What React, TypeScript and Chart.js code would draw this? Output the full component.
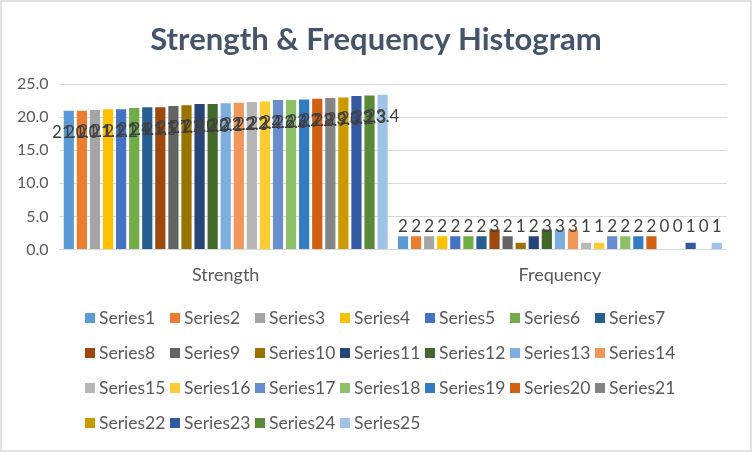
import { useEffect, useRef } from 'react';
import { Chart, registerables } from 'chart.js';

Chart.register(...registerables);

const categories = ['Strength', 'Frequency'];

const seriesNames = [
  'Series1', 'Series2', 'Series3', 'Series4', 'Series5', 'Series6', 'Series7',
  'Series8', 'Series9', 'Series10', 'Series11', 'Series12', 'Series13', 'Series14',
  'Series15', 'Series16', 'Series17', 'Series18', 'Series19', 'Series20', 'Series21',
  'Series22', 'Series23', 'Series24', 'Series25',
];

const strengthValues = [
  21.0, 21.0, 21.1, 21.2, 21.2, 21.4, 21.5, 21.5, 21.7, 21.8, 22.0, 22.0, 22.1,
  22.2, 22.3, 22.4, 22.6, 22.6, 22.7, 22.8, 22.9, 23.0, 23.2, 23.3, 23.4,
];

const frequencyValues = [
  2, 2, 2, 2, 2, 2, 2, 3, 2, 1, 2, 3, 3, 3, 1, 1, 2, 2, 2, 2, 0, 0, 1, 0, 1,
];

const seriesColors = [
  '#5B9BD5', '#ED7D31', '#A5A5A5', '#FFC000', '#4472C4', '#70AD47', '#255E91',
  '#9E480E', '#636363', '#997300', '#264478', '#43682B', '#7CAFDD', '#F1975A',
  '#B7B7B7', '#FFCD33', '#698ED0', '#8CC168', '#327DC2', '#D26012', '#848484',
  '#CC9A00', '#335AA1', '#5A8A39', '#9DC3E6',
];

const title = 'Strength & Frequency Histogram';
const font = 'Lato, "Open Sans", sans-serif';
const textGrey = '#595959';

// data labels: Strength ones sit just under the bar tops, Frequency ones on one line
const barLabels = {
  id: 'barLabels',
  afterDatasetsDraw(chart: any) {
    const { ctx } = chart;
    const y = chart.scales.y;
    ctx.save();
    ctx.font = `17px ${font}`;
    ctx.fillStyle = '#404040';
    ctx.textAlign = 'center';
    ctx.textBaseline = 'middle';
    chart.data.datasets.forEach((ds: any, di: number) => {
      const meta = chart.getDatasetMeta(di);
      meta.data.forEach((bar: any, i: number) => {
        const v = ds.data[i] as number;
        const text = i === 0 ? v.toFixed(1) : String(v);
        const ty = i === 0 ? bar.y + 22 : y.getPixelForValue(3.5);
        ctx.fillText(text, bar.x, ty);
      });
    });
    ctx.restore();
  },
};

// centre the title on the whole canvas, not on the padded layout box
const centerTitle = {
  id: 'centerTitle',
  afterLayout(chart: any) {
    if (!chart.titleBlock) return;
    chart.titleBlock.left = 0;
    chart.titleBlock.right = chart.width;
  },
};

export default function App() {
  const ref = useRef<HTMLCanvasElement>(null);

  useEffect(() => {
    if (!ref.current) return;
    const chart = new Chart(ref.current, {
      type: 'bar',
      data: {
        labels: categories,
        datasets: seriesNames.map((name, i) => ({
          label: name,
          data: [strengthValues[i], frequencyValues[i]],
          backgroundColor: seriesColors[i],
          borderWidth: 0,
          categoryPercentage: 0.978,
          barPercentage: 0.78,
        })),
      },
      options: {
        responsive: true,
        maintainAspectRatio: false,
        animation: false,
        layout: { padding: { left: 5, right: 23, top: 0, bottom: 157 } },
        plugins: {
          legend: { display: false },
          tooltip: { enabled: false },
          title: {
            display: true,
            text: title,
            color: '#44546A',
            font: { family: font, size: 31, weight: 'bold' },
            padding: { top: 19, bottom: 26 },
          },
        },
        scales: {
          x: {
            grid: { display: false },
            border: { display: false },
            ticks: { color: textGrey, font: { family: font, size: 18 }, padding: 7 },
          },
          y: {
            min: 0,
            max: 25,
            border: { display: false },
            grid: { color: '#D9D9D9', drawTicks: false },
            ticks: {
              stepSize: 5,
              color: textGrey,
              font: { family: font, size: 16 },
              padding: 10,
              callback: (v: any) => Number(v).toFixed(1),
            },
          },
        },
      },
      plugins: [barLabels, centerTitle],
    });
    return () => chart.destroy();
  }, []);

  return (
    <div
      style={{
        position: 'absolute', left: 0, top: 0, width: 752, height: 452,
        boxSizing: 'border-box', border: '2px solid #E2E2E2', background: '#fff',
      }}
    >
      <div style={{ position: 'absolute', left: 0, top: 0, width: 748, height: 448 }}>
        <canvas ref={ref} />
      </div>
      <div
        style={{
          position: 'absolute', left: 83, top: 298,
          display: 'grid', gridTemplateColumns: 'repeat(7, 85px)', gridAutoRows: '35px',
          fontFamily: font, fontSize: 17.5, color: textGrey,
        }}
      >
        {seriesNames.map((name, i) => (
          <div key={name} style={{ display: 'flex', alignItems: 'center', whiteSpace: 'nowrap' }}>
            <span style={{ width: 10, height: 10, background: seriesColors[i], marginRight: 4, flex: 'none' }} />
            {name}
          </div>
        ))}
      </div>
    </div>
  );
}
